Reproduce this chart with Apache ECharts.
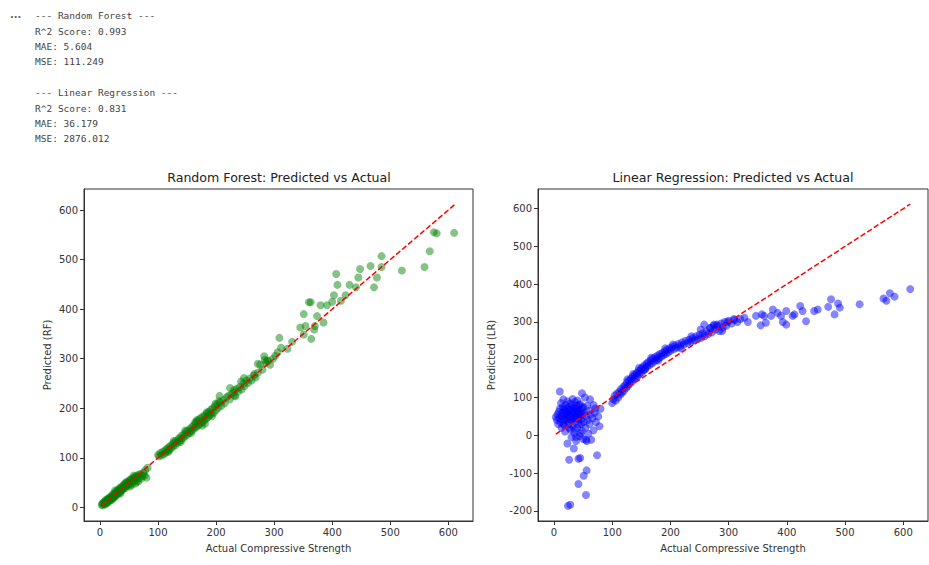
<!DOCTYPE html>
<html>
    <head>
        <meta charset="utf-8">
        <title>Predicted vs Actual</title>
        <script src="https://cdn.jsdelivr.net/npm/echarts@6.0.0/dist/echarts.min.js"></script>
        <style>
            body { margin: 0; background: #fff; }
        </style>
    </head>
    <body>
        <div id="main" style="width: 929px;height: 565px;"></div>

        <script>
            // printed metrics above the plots
            let reportLines = [
                '--- Random Forest ---',
                'R^2 Score: 0.993',
                'MAE: 5.604',
                'MSE: 111.249',
                '',
                '--- Linear Regression ---',
                'R^2 Score: 0.831',
                'MAE: 36.179',
                'MSE: 2876.012'
            ];

            let xTicks = [0, 100, 200, 300, 400, 500, 600];
            let rfYTicks = [0, 100, 200, 300, 400, 500, 600];
            let lrYTicks = [-200, -100, 0, 100, 200, 300, 400, 500, 600];

            // ideal fit line, min..max of actual strength
            let idealLine = [[3, 3], [612, 612]];

            // [actual, predicted]
            let rfPoints = [
                [3,5],[4,8],[5,4],[6,10],[7,7],[8,12],[9,6],[10,11],[10,15],[11,8],[12,13],[13,17],[13,10],[14,15],
                [15,12],[15,19],[16,17],[17,14],[18,21],[18,16],[19,19],[20,15],[20,23],[21,20],[22,18],[22,26],
                [23,22],[24,20],[24,28],[25,25],[26,22],[27,30],[27,24],[28,27],[29,33],[30,26],[30,31],[31,35],
                [32,29],[33,33],[33,38],[34,30],[35,36],[36,33],[36,41],[37,36],[38,40],[39,35],[40,43],[40,38],
                [41,46],[42,40],[43,44],[44,39],[45,48],[45,43],[46,51],[47,45],[48,50],[49,44],[50,53],[50,48],
                [51,55],[52,49],[53,57],[54,51],[55,46],[56,55],[57,59],[58,52],[59,61],[60,56],[61,48],[62,60],
                [63,64],[64,57],[65,62],[66,52],[67,66],[68,60],[70,68],[71,58],[73,63],[75,70],[77,64],[78,75],
                [80,60],[82,80],[26,34],[35,28],[44,50],[52,42],[58,64],[63,52],
                [100,106],[102,103],[104,110],[106,105],[108,112],[110,107],[112,115],[113,110],[115,118],[117,114],
                [118,121],[120,116],[121,124],[123,120],[125,128],[126,123],[128,131],[130,126],[131,134],[133,130],
                [135,138],[136,133],[138,141],[140,136],[141,145],[143,140],[145,148],[146,143],[148,152],[150,146],
                [151,155],[153,150],[155,158],[156,153],[158,162],[160,156],[161,165],[163,160],[165,170],[166,162],
                [167,176],[168,174],[169,165],[171,178],[172,168],[174,181],[175,171],[177,174],[178,184],[180,176],
                [181,186],[181,169],[183,179],[185,190],[186,182],[188,193],[189,186],[191,197],[192,189],[194,200],
                [196,191],[198,204],[200,196],[202,208],[204,201],[205,214],[206,225],[207,212],[209,205],
                [118,112],[127,134],[139,132],[147,155],[157,150],[164,172],[176,165],[184,192],[193,184],[199,209],
                [212,216],[215,210],[218,222],[221,225],[224,241],[224,218],[227,229],[230,232],[231,237],[232,226],
                [233,224],[236,240],[238,234],[241,243],[243,254],[244,238],[247,250],[248,261],[249,245],[252,256],
                [255,251],[258,260],[261,256],[265,266],[266,269],[268,262],[272,272],[272,290],[276,288],[280,278],
                [283,305],[284,298],[286,292],[288,296],[290,296],[293,288],[298,300],[302,306],
                [306,313],[309,342],[312,322],[323,320],[331,334],[345,363],[351,390],[351,349],[354,366],[360,414],
                [363,414],[364,340],[369,359],[370,366],[374,386],[380,408],[385,373],[391,408],[400,415],[403,428],
                [407,471],[409,449],[415,417],[423,428],[430,449],[441,444],[445,464],[448,481],[466,487],[472,444],
                [477,464],[485,507],[485,485],[520,478],[559,485],[568,517],[575,555],[580,553],[610,554]
            ];

            // [actual, predicted]
            let lrPoints = [
                [3,48],[5,40],[6,55],[7,30],[8,62],[9,45],[10,116],[10,70],[11,35],[12,52],[12,85],[13,20],[14,60],
                [15,42],[15,75],[16,95],[17,28],[18,55],[18,65],[19,10],[20,48],[20,80],[21,38],[22,70],[22,58],
                [23,-22],[23,90],[24,45],[25,62],[25,30],[26,75],[26,-65],[27,52],[28,84],[28,15],[29,40],[30,68],
                [30,-5],[31,58],[32,96],[32,25],[33,45],[34,72],[34,-35],[35,60],[35,5],[36,88],[36,35],[37,50],
                [38,78],[38,-15],[39,64],[40,20],[40,92],[41,48],[42,-62],[42,70],[43,30],[44,58],[44,-2],[45,82],
                [45,-60],[46,42],[47,65],[48,111],[48,12],[49,55],[50,75],[50,-10],[51,35],[52,60],[53,100],[54,20],
                [55,-12],[55,50],[56,-15],[57,78],[58,40],[59,4],[60,65],[61,30],[62,95],[63,55],[64,-12],[66,45],
                [68,13],[68,80],[70,60],[71,71],[72,35],[74,-53],[76,50],[78,24],[80,70],
                [14,50],[17,70],[19,40],[21,62],[24,55],[27,68],[29,50],[31,80],[33,62],[35,45],[37,70],[39,55],
                [41,62],[43,80],[45,52],[47,30],[49,72],[16,30],[26,20],[36,15],[46,5],[38,-5],[30,40],[42,42],
                [28,-184],[24,-187],[55,-158],[42,-129],[51,-107],[56,-93],
                [100,85],[102,95],[104,105],[106,92],[108,110],[110,100],[112,115],[114,108],[115,122],[117,113],
                [119,128],[120,118],[122,132],[124,125],[125,140],[127,130],[129,145],[130,136],[132,150],[134,142],
                [135,155],[137,148],[139,160],[140,152],[142,165],[144,157],[145,170],[147,162],[149,175],[150,166],
                [152,180],[154,172],[155,185],[157,177],[159,190],[160,182],[162,194],[164,186],[166,198],[168,190],
                [170,203],[172,195],[174,207],[176,200],[178,211],[180,204],[182,215],[184,208],[186,218],[188,212],
                [190,222],[192,215],[194,226],[196,219],[198,230],[200,224],[203,233],[206,228],[208,238],[211,232],
                [214,242],[217,236],[220,246],[223,240],[226,250],[229,244],[232,253],[235,247],[238,257],[241,251],
                [244,262],[247,255],[250,266],[252,280],[253,258],[256,270],[258,293],[259,262],[262,275],[265,268],
                [268,284],[269,284],[271,272],[274,290],[275,293],[277,280],[280,293],[281,289],[284,276],[287,296],
                [289,276],[290,285],[293,300],[296,290],[298,300],[300,303],[305,296],[309,308],[310,305],[315,300],
                [320,308],[327,311],[333,300],
                [126,148],[136,162],[146,178],[156,174],[167,205],[179,198],[191,230],[204,240],[218,230],[236,262],
                [347,316],[355,291],[357,320],[361,316],[364,298],[373,316],[376,333],[384,324],[390,316],[393,300],
                [399,329],[399,293],[410,316],[413,320],[423,342],[427,329],[433,302],[447,329],[453,333],[471,340],
                [476,360],[482,320],[488,349],[491,338],[525,347],[566,362],[571,356],[577,376],[585,367],[612,387]
            ];

            let font = 'DejaVu Sans';
            let axisColor = '#333';

            function makeAxis(gridIndex, min, max, ticks, name, nameGap) {
                return {
                    gridIndex: gridIndex,
                    type: 'value',
                    min: min,
                    max: max,
                    name: name,
                    nameLocation: 'middle',
                    nameGap: nameGap,
                    nameTextStyle: { fontFamily: font, fontSize: 10, color: axisColor },
                    axisLine: { show: true, onZero: false, lineStyle: { color: axisColor, width: 1 } },
                    axisTick: { show: true, length: 4, customValues: ticks, lineStyle: { color: axisColor } },
                    axisLabel: { customValues: ticks, fontFamily: font, fontSize: 10, color: axisColor, margin: 6 },
                    splitLine: { show: false }
                };
            }

            let graphics = [];
            graphics.push({
                type: 'text', left: 10, top: 9,
                style: { text: '...', fontFamily: font, fontSize: 10, fontWeight: 'bold', fill: '#666' }
            });
            reportLines.forEach(function (line, i) {
                graphics.push({
                    type: 'text', x: 35, y: 15.7 + i * 15.4,
                    style: {
                        text: line, fontFamily: 'DejaVu Sans Mono', fontSize: 9.5,
                        fill: '#444', textVerticalAlign: 'middle'
                    }
                });
            });
            graphics.push({
                type: 'text', x: 279, y: 177,
                style: { text: 'Random Forest: Predicted vs Actual', fontFamily: font, fontSize: 12.6,
                         fill: '#222', textAlign: 'center', textVerticalAlign: 'middle' }
            });
            graphics.push({
                type: 'text', x: 733, y: 177,
                style: { text: 'Linear Regression: Predicted vs Actual', fontFamily: font, fontSize: 12.6,
                         fill: '#222', textAlign: 'center', textVerticalAlign: 'middle' }
            });

            var option = {
                animation: false,
                backgroundColor: '#fff',
                graphic: graphics,
                grid: [
                    { left: 84, top: 189, width: 389, height: 332, show: true,
                      borderColor: axisColor, borderWidth: 1, backgroundColor: 'transparent' },
                    { left: 538, top: 189, width: 390, height: 332, show: true,
                      borderColor: axisColor, borderWidth: 1, backgroundColor: 'transparent' }
                ],
                xAxis: [
                    makeAxis(0, -27.5, 642.5, xTicks, 'Actual Compressive Strength', 22),
                    makeAxis(1, -27.5, 642.5, xTicks, 'Actual Compressive Strength', 22)
                ],
                yAxis: [
                    makeAxis(0, -27.5, 642.5, rfYTicks, 'Predicted (RF)', 32),
                    makeAxis(1, -227, 652, lrYTicks, 'Predicted (LR)', 42)
                ],
                series: [
                    {
                        type: 'scatter', xAxisIndex: 0, yAxisIndex: 0,
                        data: rfPoints, symbolSize: 8,
                        itemStyle: { color: 'rgba(0,128,0,0.6)' }
                    },
                    {
                        type: 'line', xAxisIndex: 0, yAxisIndex: 0,
                        data: idealLine, showSymbol: false, symbol: 'none', z: 5,
                        lineStyle: { color: '#ff0000', width: 1.5, type: [5.5, 2.4] }
                    },
                    {
                        type: 'scatter', xAxisIndex: 1, yAxisIndex: 1,
                        data: lrPoints, symbolSize: 8,
                        itemStyle: { color: 'rgba(0,0,255,0.6)' }
                    },
                    {
                        type: 'line', xAxisIndex: 1, yAxisIndex: 1,
                        data: idealLine, showSymbol: false, symbol: 'none', z: 5,
                        lineStyle: { color: '#ff0000', width: 1.5, type: [5.5, 2.4] }
                    }
                ]
            };

            let chart = echarts.init(document.getElementById('main'), null, { renderer: 'svg' });
            chart.setOption(option);
        </script>
    </body>
</html>
